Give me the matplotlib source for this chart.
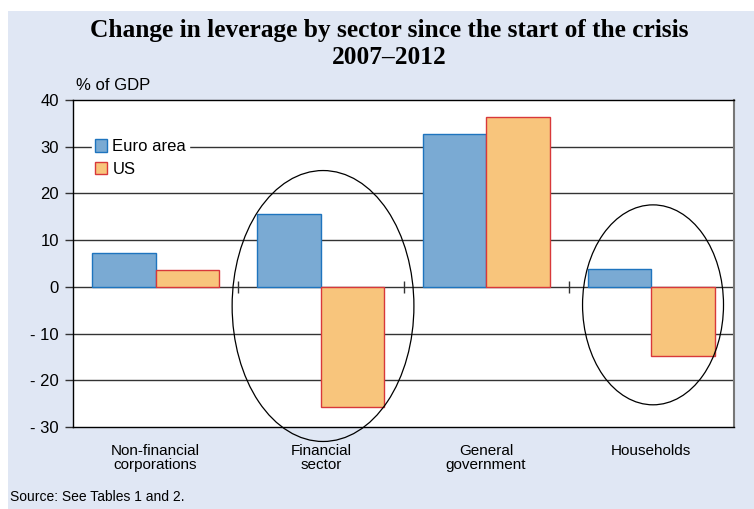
import numpy as np
import matplotlib.pyplot as plt
from matplotlib.patches import Ellipse, Rectangle

# change in leverage, % of GDP, 2007-2012
categories = ["Non-financial\ncorporations", "Financial\nsector", "General\ngovernment", "Households"]
euro_area = [7.3, 15.7, 32.8, 3.8]
us = [3.6, -25.8, 36.4, -14.7]
yticks = [40, 30, 20, 10, 0, -10, -20, -30]
ytick_labels = ["40", "30", "20", "10", "0", "- 10", "- 20", "- 30"]

bg = "#E0E7F4"
blue = "#7AAAD3"
blue_edge = "#1E74BE"
orange = "#F8C57C"
orange_edge = "#D8383A"

plt.rcParams['font.family'] = ['Liberation Sans', 'DejaVu Sans']

fig = plt.figure(figsize=(7.54, 5.09), dpi=100)
fig.patch.set_facecolor("white")
# light blue panel behind the chart
fig.patches.append(Rectangle((8 / 754, 0), 1, 1 - 11 / 509, transform=fig.transFigure,
                             facecolor=bg, edgecolor="none", zorder=-10))

ax = fig.add_axes([73 / 754, 82 / 509, 661 / 754, 327 / 509])
ax.set_facecolor("white")

x = np.arange(len(categories))
w = 0.385
ax.bar(x - w / 2, euro_area, w, color=blue, edgecolor=blue_edge, linewidth=1, label="Euro area", zorder=3)
ax.bar(x + w / 2, us, w, color=orange, edgecolor=orange_edge, linewidth=1, label="US", zorder=3)

for y in yticks[1:-1]:
    ax.axhline(y, color="#333333", linewidth=1, zorder=1)

# small separators between the groups on the zero line
ax.plot(x[:-1] + 0.5, np.zeros(len(x) - 1), linestyle="none", marker="|",
        markersize=8, color="#333333", markeredgewidth=1, zorder=2)

ax.set_xlim(-0.5, len(categories) - 0.5)
ax.set_ylim(-30, 40)
ax.set_yticks(yticks)
ax.set_yticklabels(ytick_labels, fontsize=12)
ax.set_xticks(x)
ax.set_xticklabels(categories, fontsize=11, linespacing=1.05)
ax.tick_params(axis="x", length=0, pad=12)
ax.tick_params(axis="y", length=6, width=1, color="#333333", pad=4)

for s in ["left", "top", "bottom"]:
    ax.spines[s].set_color("black")
    ax.spines[s].set_linewidth(1)
ax.spines["right"].set_color("#777777")
ax.spines["right"].set_linewidth(1.5)

# circles highlighting the sectors
ax.add_patch(Ellipse((1.013, -4.1), 1.10, 58, fill=False, edgecolor="black",
                     linewidth=0.9, clip_on=False, zorder=4))
ax.add_patch(Ellipse((3.01, -3.85), 0.853, 42.8, fill=False, edgecolor="black",
                     linewidth=0.9, clip_on=False, zorder=4))

leg = ax.legend(loc="upper left", bbox_to_anchor=(0.028, 0.89), frameon=True, fontsize=12,
                handlelength=0.75, handleheight=0.75, handletextpad=0.3, labelspacing=0.45,
                borderpad=0.2, borderaxespad=0)
leg.get_frame().set_edgecolor("white")
leg.get_frame().set_facecolor("white")
leg.get_frame().set_alpha(1)

ax.text(0.005, 1.02, "% of GDP", transform=ax.transAxes, fontsize=12, ha="left", va="bottom")

fig.text(389 / 754, 1 - 30 / 509, "Change in leverage by sector since the start of the crisis",
         family="Liberation Serif", fontweight="bold", fontsize=18.3, ha="center", va="center")
fig.text(389 / 754, 1 - 57 / 509, "2007–2012",
         family="Liberation Serif", fontweight="bold", fontsize=18.3, ha="center", va="center")
fig.text(10 / 754, 1 - 497 / 509, "Source: See Tables 1 and 2.", fontsize=10, ha="left", va="center")

fig.savefig("out.png", dpi=100)
